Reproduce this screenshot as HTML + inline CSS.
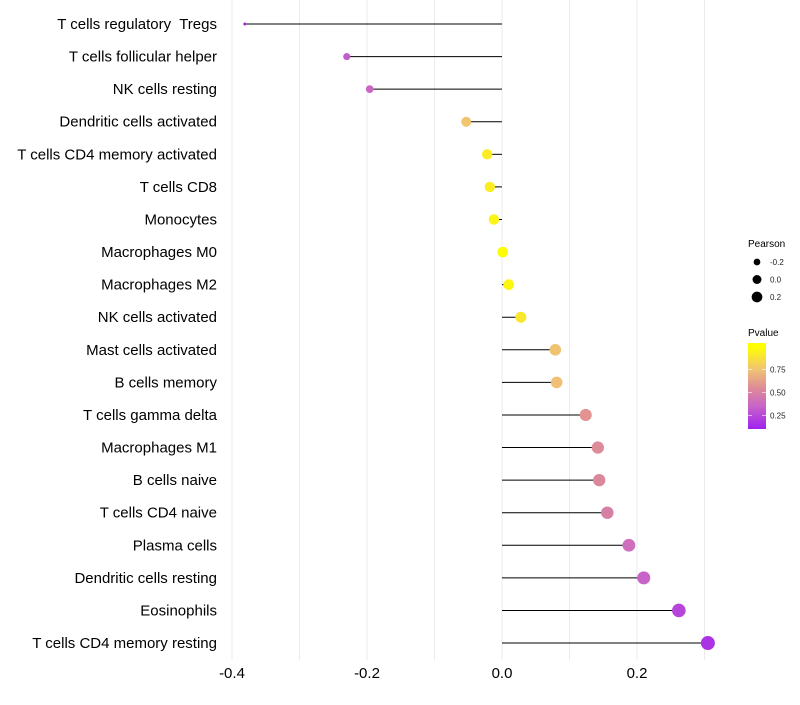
<!DOCTYPE html>
<html><head><meta charset="utf-8"><style>
body{margin:0;background:#fff;}
svg text{font-family:"Liberation Sans",sans-serif;}
</style></head><body>
<svg id="chart" width="800" height="700"></svg>
<script>
const categories=["T cells regulatory\u00a0 Tregs","T cells follicular helper","NK cells resting","Dendritic cells activated","T cells CD4 memory activated","T cells CD8","Monocytes","Macrophages M0","Macrophages M2","NK cells activated","Mast cells activated","B cells memory","T cells gamma delta","Macrophages M1","B cells naive","T cells CD4 naive","Plasma cells","Dendritic cells resting","Eosinophils","T cells CD4 memory resting"];
const pearson=[-0.381,-0.230,-0.196,-0.053,-0.022,-0.018,-0.012,0.001,0.010,0.028,0.079,0.081,0.124,0.142,0.144,0.156,0.188,0.210,0.262,0.305];
const pvalues=[0.10,0.32,0.36,0.76,0.92,0.93,0.95,0.99,0.96,0.90,0.75,0.74,0.58,0.54,0.53,0.49,0.40,0.35,0.24,0.17];
const xTicks=[-0.4,-0.2,0.0,0.2];
const xTickLabels=["-0.4","-0.2","0.0","0.2"];
const gridVals=[-0.4,-0.3,-0.2,-0.1,0,0.1,0.2,0.3];
const legendSizes=[-0.2,0.0,0.2];
const legendP=[0.25,0.50,0.75];

const NS="http://www.w3.org/2000/svg";
const svg=document.getElementById('chart');
function mk(t,a,p){const e=document.createElementNS(NS,t);for(const k in a)e.setAttribute(k,a[k]);(p||svg).appendChild(e);return e;}
const xs=v=>502+v*675;
const ys=i=>24+i*32.58;
const rad=v=>Math.sqrt(Math.max(1.5,28.2+68.2*v));
const stops=[[0.1,[160,32,240]],[0.35,[200,100,200]],[0.55,[222,140,150]],[0.75,[240,195,115]],[1.0,[255,255,0]]];
function col(p){p=Math.max(0.1,Math.min(1,p));for(let i=0;i<stops.length-1;i++){const a=stops[i][0],ca=stops[i][1],b=stops[i+1][0],cb=stops[i+1][1];if(p<=b){const t=(p-a)/(b-a);return 'rgb('+ca.map((c,j)=>Math.round(c+(cb[j]-c)*t)).join(',')+')';}}return 'rgb(255,255,0)';}

gridVals.forEach(g=>{const l=mk('line',{x1:xs(g),x2:xs(g),y1:0,y2:660,stroke:'#ebebeb','stroke-width':1});

});
xTicks.forEach((t,i)=>{const e=mk('text',{x:xs(t),y:678,'text-anchor':'middle','font-size':15,fill:'#000'});e.textContent=xTickLabels[i];

});
categories.forEach((c,i)=>{
const lab=mk('text',{x:217,y:ys(i)+5,'text-anchor':'end','font-size':15,fill:'#000'});lab.textContent=c;


const ln=mk('line',{x1:xs(0),x2:xs(pearson[i]),y1:ys(i),y2:ys(i),stroke:'#000','stroke-width':1});


const dot=mk('circle',{cx:xs(pearson[i]),cy:ys(i),r:rad(pearson[i]),fill:col(pvalues[i])});


});
const lg=mk('g',{});


const lt=mk('text',{x:748,y:247,'font-size':10,fill:'#000'},lg);lt.textContent='Pearson';
legendSizes.forEach((s,i)=>{const cy=262+i*17.5;
const c=mk('circle',{cx:757,cy:cy,r:rad(s)*0.75+0.5,fill:'#000'},lg);


const t=mk('text',{x:770,y:cy+3,'font-size':8,fill:'#222'},lg);t.textContent=s.toFixed(1);});
const pt=mk('text',{x:748,y:336,'font-size':10,fill:'#000'},lg);pt.textContent='Pvalue';
const defs=mk('defs',{});const gr=mk('linearGradient',{id:'pg',x1:0,y1:1,x2:0,y2:0},defs);
stops.forEach(s=>mk('stop',{offset:((s[0]-0.1)/0.94*100)+'%','stop-color':col(s[0])},gr));
const cbTop=343,cbBot=429,pv=v=>cbBot-(v-0.1)/0.94*(cbBot-cbTop);
const bar=mk('rect',{x:748,y:cbTop,width:18,height:cbBot-cbTop,fill:'url(#pg)'},lg);


legendP.forEach(p=>{mk('line',{x1:748,x2:752,y1:pv(p),y2:pv(p),stroke:'#fff','stroke-width':0.6},lg);mk('line',{x1:762,x2:766,y1:pv(p),y2:pv(p),stroke:'#fff','stroke-width':0.6},lg);
const t=mk('text',{x:770,y:pv(p)+3,'font-size':8,fill:'#222'},lg);t.textContent=p.toFixed(2);});
</script>
</body></html>
